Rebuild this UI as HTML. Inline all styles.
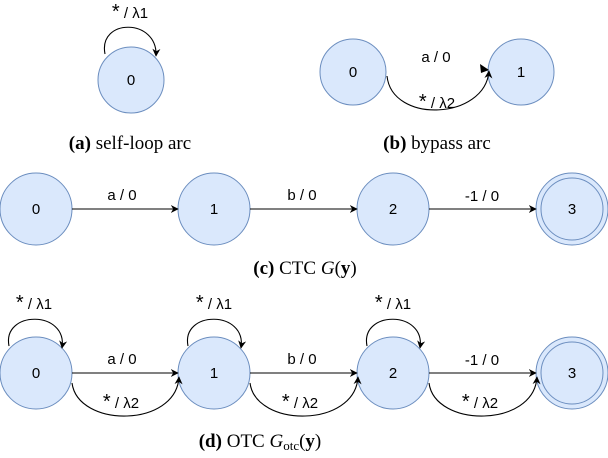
<!DOCTYPE html>
<html><head><meta charset="utf-8"><style>
body{margin:0;background:#fff}
svg{display:block}
.n{fill:#dae8fc;stroke:#6c8ebf;stroke-width:1}
.l{font-family:"Liberation Sans",sans-serif;font-size:15px;fill:#000;text-anchor:middle}
.s{font-size:20px}
.c{font-family:"Liberation Serif",serif;font-size:19px;fill:#000;text-anchor:middle}
.e{fill:none;stroke:#000;stroke-width:1.1}
</style></head><body>
<svg width="608" height="458" viewBox="0 0 608 458" xmlns="http://www.w3.org/2000/svg">
<defs><marker id="a" viewBox="0 0 10 10" refX="9" refY="5" markerWidth="8" markerHeight="8" orient="auto" markerUnits="userSpaceOnUse"><path d="M0,0 L10,5 L0,10 L3,5 z" fill="#000"/></marker></defs>

<!-- (a) -->
<circle class="n" cx="131" cy="80" r="33"/>
<text class="l" x="131" y="85">0</text>
<path class="e" d="M105,54 C98,18 158,18 156,56" marker-end="url(#a)"/>
<text class="l" x="130" y="18"><tspan class="s">*</tspan> / λ1</text>
<text class="c" x="130" y="149"><tspan font-weight="bold">(a)</tspan> self-loop arc</text>

<!-- (b) -->
<circle class="n" cx="353" cy="72" r="33"/>
<text class="l" x="353" y="77">0</text>
<circle class="n" cx="521" cy="72" r="33"/>
<text class="l" x="521" y="77">1</text>
<path class="e" d="M387,76 C392,124 485,120 489,71" marker-end="url(#a)"/>
<path d="M480,64 L489,70 L481,73 z" fill="#000"/>
<text class="l" x="436" y="62">a / 0</text>
<text class="l" x="437" y="108"><tspan class="s">*</tspan> / λ2</text>
<text class="c" x="437" y="149"><tspan font-weight="bold">(b)</tspan> bypass arc</text>

<!-- (c) -->
<circle class="n" cx="36" cy="209" r="36"/>
<text class="l" x="36" y="214">0</text>
<circle class="n" cx="214" cy="209" r="36"/>
<text class="l" x="214" y="214">1</text>
<circle class="n" cx="393" cy="209" r="36"/>
<text class="l" x="393" y="214">2</text>
<circle class="n" cx="572" cy="209" r="36"/>
<circle class="n" cx="572" cy="209" r="31"/>
<text class="l" x="572" y="214">3</text>
<path class="e" d="M72,209 L178,209" marker-end="url(#a)"/>
<path class="e" d="M250,209 L357,209" marker-end="url(#a)"/>
<path class="e" d="M429,209 L536,209" marker-end="url(#a)"/>
<text class="l" x="122" y="200">a / 0</text>
<text class="l" x="302" y="200">b / 0</text>
<text class="l" x="482" y="201">-1 / 0</text>
<text class="c" x="305" y="274"><tspan font-weight="bold">(c)</tspan> CTC <tspan font-style="italic">G</tspan>(<tspan font-weight="bold">y</tspan>)</text>

<!-- (d) -->
<circle class="n" cx="36" cy="373" r="36"/>
<text class="l" x="36" y="378">0</text>
<circle class="n" cx="214" cy="373" r="36"/>
<text class="l" x="214" y="378">1</text>
<circle class="n" cx="393" cy="373" r="36"/>
<text class="l" x="393" y="378">2</text>
<circle class="n" cx="572" cy="373" r="36"/>
<circle class="n" cx="572" cy="373" r="31"/>
<text class="l" x="572" y="378">3</text>

<path class="e" d="M9,346 C2,310 68,310 62,348" marker-end="url(#a)"/>
<path class="e" d="M188,346 C181,310 247,310 241,348" marker-end="url(#a)"/>
<path class="e" d="M367,346 C360,310 426,310 420,348" marker-end="url(#a)"/>
<text class="l" x="34" y="309"><tspan class="s">*</tspan> / λ1</text>
<text class="l" x="214" y="309"><tspan class="s">*</tspan> / λ1</text>
<text class="l" x="393" y="309"><tspan class="s">*</tspan> / λ1</text>

<path class="e" d="M72,373 L178,373" marker-end="url(#a)"/>
<path class="e" d="M250,373 L357,373" marker-end="url(#a)"/>
<path class="e" d="M429,373 L536,373" marker-end="url(#a)"/>
<text class="l" x="122" y="364">a / 0</text>
<text class="l" x="302" y="364">b / 0</text>
<text class="l" x="482" y="365">-1 / 0</text>

<path class="e" d="M72,383 C78,428 176,428 179,377" marker-end="url(#a)"/>
<path class="e" d="M250,383 C256,428 355,428 358,377" marker-end="url(#a)"/>
<path class="e" d="M429,383 C435,428 534,428 537,377" marker-end="url(#a)"/>
<text class="l" x="121" y="408"><tspan class="s">*</tspan> / λ2</text>
<text class="l" x="300" y="408"><tspan class="s">*</tspan> / λ2</text>
<text class="l" x="480" y="408"><tspan class="s">*</tspan> / λ2</text>

<text class="c" x="260" y="447"><tspan font-weight="bold">(d)</tspan> OTC <tspan font-style="italic">G</tspan><tspan font-size="13" dy="3">otc</tspan><tspan dy="-3">(</tspan><tspan font-weight="bold">y</tspan>)</text>
</svg>
</body></html>
